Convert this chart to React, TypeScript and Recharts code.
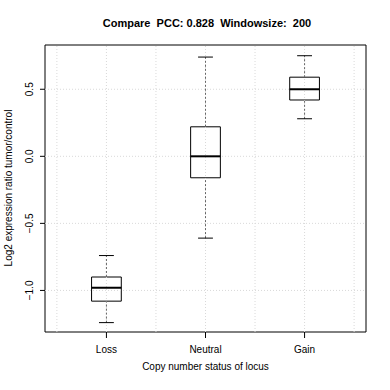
import { ComposedChart, XAxis, YAxis, ReferenceArea, ReferenceLine, Scatter, Customized } from "recharts";

const groups = ["Loss", "Neutral", "Gain"];
const lowWhisker = [-1.24, -0.61, 0.28];
const q1 = [-1.08, -0.16, 0.42];
const median = [-0.98, 0.0, 0.5];
const q3 = [-0.9, 0.22, 0.59];
const highWhisker = [-0.74, 0.74, 0.75];

const yTicks = [-1, -0.5, 0, 0.5];
const xTicks = [1, 2, 3];
const xGrid = [0.5, 1, 1.5, 2, 2.5, 3, 3.5];

const X_DOMAIN: [number, number] = [0.38, 3.62];
const Y_DOMAIN: [number, number] = [-1.31, 0.83];
const BOX_HALF = 0.15;
const CAP_HALF = 0.075;
const FONT = "'Liberation Sans', Arial, Helvetica, sans-serif";

const rows = groups.map((g, i) => ({
    x: i + 1,
    name: g,
    low: lowWhisker[i],
    q1: q1[i],
    median: median[i],
    q3: q3[i],
    high: highWhisker[i],
}));

function YTick({ x, y, payload }: any) {
    const bx = x - 4;
    return (
        <text x={bx} y={y} transform={`rotate(-90 ${bx} ${y})`} textAnchor="middle" fontSize={10} fill="#000" fontFamily={FONT}>
            {payload.value.toFixed(1).replace("-", "\u2212")}
        </text>
    );
}

function Titles() {
    return (
        <g fontFamily={FONT}>
            <text x={207} y={27} textAnchor="middle" fontSize={11} fontWeight="bold" fill="#000" style={{ whiteSpace: "pre" }}>
                {"Compare  PCC: 0.828  Windowsize:  200"}
            </text>
            <text x={12} y={188} transform="rotate(-90 12 188)" textAnchor="middle" fontSize={10} fill="#000">
                Log2 expression ratio tumor/control
            </text>
        </g>
    );
}

export default function App() {
    return (
        <div style={{ position: "absolute", left: 0, top: 0, background: "#fff" }}>
            <ComposedChart width={390} height={390} data={rows} margin={{ top: 45, right: 24, bottom: 17, left: 0 }}>
                <XAxis
                    dataKey="x"
                    type="number"
                    domain={X_DOMAIN}
                    ticks={xTicks}
                    allowDataOverflow
                    height={41}
                    axisLine={false}
                    tickLine={{ stroke: "#000" }}
                    tickSize={6}
                    tickMargin={8}
                    tickFormatter={(v: number) => groups[v - 1]}
                    tick={{ fontSize: 10, fill: "#000", fontFamily: FONT }}
                    label={{ value: "Copy number status of locus", position: "insideBottom", offset: 3, fontSize: 10, fill: "#000", fontFamily: FONT }}
                />
                <YAxis
                    type="number"
                    domain={Y_DOMAIN}
                    ticks={yTicks}
                    allowDataOverflow
                    width={45}
                    axisLine={false}
                    tickLine={{ stroke: "#000" }}
                    tickSize={5}
                    tickMargin={3}
                    tick={<YTick />}
                />
                {xGrid.map((gx) => (
                    <ReferenceLine key={"gx" + gx} x={gx} stroke="#d9d9d9" strokeDasharray="1 2" />
                ))}
                {yTicks.map((gy) => (
                    <ReferenceLine key={"gy" + gy} y={gy} stroke="#d9d9d9" strokeDasharray="1 2" />
                ))}
                {rows.map((r) => (
                    <ReferenceLine key={"wu" + r.x} segment={[{ x: r.x, y: r.q3 }, { x: r.x, y: r.high }]} stroke="#666" strokeDasharray="2 2" />
                ))}
                {rows.map((r) => (
                    <ReferenceLine key={"wl" + r.x} segment={[{ x: r.x, y: r.low }, { x: r.x, y: r.q1 }]} stroke="#666" strokeDasharray="2 2" />
                ))}
                {rows.map((r) => (
                    <ReferenceLine key={"cu" + r.x} segment={[{ x: r.x - CAP_HALF, y: r.high }, { x: r.x + CAP_HALF, y: r.high }]} stroke="#000" />
                ))}
                {rows.map((r) => (
                    <ReferenceLine key={"cl" + r.x} segment={[{ x: r.x - CAP_HALF, y: r.low }, { x: r.x + CAP_HALF, y: r.low }]} stroke="#000" />
                ))}
                {rows.map((r) => (
                    <ReferenceArea key={"b" + r.x} x1={r.x - BOX_HALF} x2={r.x + BOX_HALF} y1={r.q1} y2={r.q3} fill="#fff" fillOpacity={1} stroke="#000" strokeWidth={1} />
                ))}
                {rows.map((r) => (
                    <ReferenceLine key={"m" + r.x} segment={[{ x: r.x - BOX_HALF, y: r.median }, { x: r.x + BOX_HALF, y: r.median }]} stroke="#000" strokeWidth={2} />
                ))}
                <ReferenceArea x1={X_DOMAIN[0]} x2={X_DOMAIN[1]} y1={Y_DOMAIN[0]} y2={Y_DOMAIN[1]} fill="none" stroke="#000" strokeWidth={1} ifOverflow="visible" />
                <Scatter dataKey="median" fill="none" isAnimationActive={false} shape={() => <g />} />
                <Customized component={Titles} />
            </ComposedChart>
        </div>
    );
}
